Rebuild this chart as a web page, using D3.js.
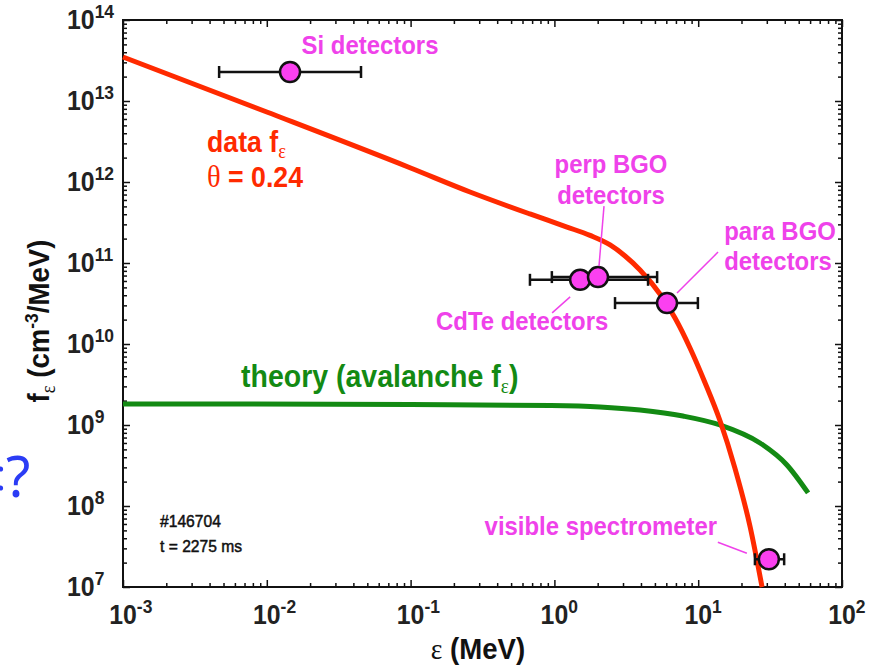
<!DOCTYPE html>
<html>
<head>
<meta charset="utf-8">
<script src="https://cdn.jsdelivr.net/npm/d3@7"></script>
<style>
  body { margin: 0; background: #fff; }
  svg { display: block; }
</style>
</head>
<body>
<svg id="chart" width="882" height="667"></svg>
<script>
// ---- data -------------------------------------------------------------
// measured runaway-electron energy distribution f_eps (cm^-3/MeV) vs energy (MeV)
const dataEnergy  = [0.001, 0.01, 0.1, 0.259, 0.676, 1.224, 1.77, 2.44, 3.10, 3.94, 5.42, 6.90, 8.77, 11.1, 14.2, 18.0, 22.9, 27.8];
const dataDensity = [3.49e13, 7.31e12, 1.49e12, 7.53e11, 4.03e11, 2.78e11, 2.19e11, 1.67e11, 1.22e11, 8.20e10, 4.14e10, 2.09e10, 8.93e9, 3.40e9, 1.12e9, 2.94e8, 5.66e7, 1.0e7];

// avalanche theory distribution
const theoryEnergy  = [0.001, 0.1, 0.946, 2.075, 3.94, 7.83, 14.2, 26.9, 41.4, 58.1];
const theoryDensity = [1.82e9, 1.79e9, 1.74e9, 1.67e9, 1.53e9, 1.29e9, 1.0e9, 6.0e8, 3.21e8, 1.45e8];

// diagnostic measurements: energy, density, energy range low/high
const detectorNames  = ["Si", "CdTe", "perp BGO", "para BGO", "visible"];
const detectorEnergy = [0.0145, 1.51, 2.01, 6.07, 31.0];
const detectorValue  = [2.28e13, 6.2e10, 6.7e10, 3.2e10, 2.2e7];
const detectorLow    = [0.00466, 0.676, 0.96, 2.64, 24.8];
const detectorHigh   = [0.0452, 4.48, 5.18, 9.95, 39.6];

// tick labels (powers of ten)
const xTickExponents = [-3, -2, -1, 0, 1, 2];
const yTickExponents = [7, 8, 9, 10, 11, 12, 13, 14];

// ---- layout -----------------------------------------------------------
const plot = { left: 123, right: 842, top: 20, bottom: 587 };
const SX = 0.92;                       // narrow-face text compression
const SANS = "'Liberation Sans', Arial, Helvetica, sans-serif";
const SERIF = "'Liberation Serif', 'Times New Roman', serif";
const RED = "#ff2a00", GREEN = "#138a13", MAG = "#ef42ea", MAGFILL = "#fb40f0";

const svg = d3.select("#chart");

const x = d3.scaleLog().domain([1e-3, 1e2]).range([plot.left, plot.right]);
const y = d3.scaleLog().domain([1e7, 1e14]).range([plot.bottom, plot.top]);

// ---- axes (inward ticks on all four sides) ----------------------------
function minorTicks(lo, hi) {
  const out = [];
  for (let e = lo; e < hi; e++) for (let m = 2; m <= 9; m++) out.push(m * Math.pow(10, e));
  return out;
}
const xMajor = xTickExponents.map(e => Math.pow(10, e));
const yMajor = yTickExponents.map(e => Math.pow(10, e));
const xMinor = minorTicks(-3, 2);
const yMinor = minorTicks(7, 14);

function tickLayer(axis, transform, values, len) {
  const g = svg.append("g").attr("transform", transform)
    .call(axis.tickValues(values).tickSizeInner(-len).tickSizeOuter(0).tickFormat(() => ""));
  g.select(".domain").remove();
  g.selectAll("text").remove();
  g.selectAll("line").attr("stroke", "#111").attr("stroke-width", 1.5);
}
[[xMajor, 7], [xMinor, 4]].forEach(([v, l]) => {
  tickLayer(d3.axisBottom(x), `translate(0,${plot.bottom})`, v, l);
  tickLayer(d3.axisTop(x), `translate(0,${plot.top})`, v, l);
});
[[yMajor, 7], [yMinor, 4]].forEach(([v, l]) => {
  tickLayer(d3.axisLeft(y), `translate(${plot.left},0)`, v, l);
  tickLayer(d3.axisRight(y), `translate(${plot.right},0)`, v, l);
});

svg.append("rect")
  .attr("x", plot.left).attr("y", plot.top)
  .attr("width", plot.right - plot.left).attr("height", plot.bottom - plot.top)
  .attr("fill", "none").attr("stroke", "#111").attr("stroke-width", 2);

// power-of-ten tick labels
function powerLabel(px, py, exp, anchorMode) {
  const g = svg.append("g").attr("transform", `translate(${px},${py}) scale(${SX},1)`);
  const t = g.append("text").attr("font-family", SANS).attr("font-weight", "bold")
    .attr("font-size", 27).attr("fill", "#222");
  const base = t.append("tspan").text("10");
  t.append("tspan").attr("dy", -11).attr("font-size", 19).text(exp);
  if (anchorMode === "centerBase") {
    t.attr("x", -base.node().getComputedTextLength() / 2);
  }
}
xTickExponents.forEach((e, i) => powerLabel(x(xMajor[i]), plot.bottom + 37, e, "centerBase"));
yTickExponents.forEach((e, i) => powerLabel(67, y(yMajor[i]) + 9, e, "start"));

// axis titles
{
  const g = svg.append("g").attr("transform", `translate(478,659) scale(${SX},1)`);
  const t = g.append("text").attr("text-anchor", "middle").attr("font-size", 30).attr("fill", "#111");
  t.append("tspan").attr("font-family", SERIF).text("ε");
  t.append("tspan").attr("font-family", SANS).attr("font-weight", "bold").text(" (MeV)");
}
{
  const g = svg.append("g").attr("transform", `translate(49,321) rotate(-90) scale(${SX},1)`);
  const t = g.append("text").attr("text-anchor", "middle").attr("font-size", 30)
    .attr("font-family", SANS).attr("font-weight", "bold").attr("fill", "#111");
  t.append("tspan").text("f");
  t.append("tspan").attr("font-family", SERIF).attr("font-weight", "normal").attr("font-size", 20).attr("dy", 6).text("ε");
  t.append("tspan").attr("dy", -6).text(" (cm");
  t.append("tspan").attr("font-size", 19).attr("dy", -11).text("-3");
  t.append("tspan").attr("dy", 11).text("/MeV)");
}

// ---- curves -----------------------------------------------------------
const line = d3.line().x(d => x(d[0])).y(d => y(d[1])).curve(d3.curveMonotoneX);

svg.append("path")
  .datum(theoryEnergy.map((e, i) => [e, theoryDensity[i]]))
  .attr("d", line).attr("fill", "none").attr("stroke", GREEN).attr("stroke-width", 5);

svg.append("path")
  .datum(dataEnergy.map((e, i) => [e, dataDensity[i]]))
  .attr("d", line).attr("fill", "none").attr("stroke", RED).attr("stroke-width", 5);

// ---- measurement points with energy-range bars -------------------------
const pts = detectorNames.map((n, i) => ({
  name: n, e: detectorEnergy[i], v: detectorValue[i], lo: detectorLow[i], hi: detectorHigh[i]
}));

const bars = svg.append("g").attr("stroke", "#111").attr("stroke-width", 2.5).attr("fill", "none");
pts.forEach(p => {
  bars.append("line").attr("x1", x(p.lo)).attr("x2", x(p.hi)).attr("y1", y(p.v)).attr("y2", y(p.v));
  bars.append("line").attr("x1", x(p.lo)).attr("x2", x(p.lo)).attr("y1", y(p.v) - 6).attr("y2", y(p.v) + 6);
  bars.append("line").attr("x1", x(p.hi)).attr("x2", x(p.hi)).attr("y1", y(p.v) - 6).attr("y2", y(p.v) + 6);
});
svg.append("g").selectAll("circle").data(pts).join("circle")
  .attr("cx", d => x(d.e)).attr("cy", d => y(d.v)).attr("r", 10)
  .attr("fill", MAGFILL).attr("stroke", "#111").attr("stroke-width", 2.5);

// ---- annotations ------------------------------------------------------
function label(px, py, parts, opts = {}) {
  const g = svg.append("g").attr("transform", `translate(${px},${py}) scale(${SX},1)`);
  const t = g.append("text")
    .attr("text-anchor", opts.anchor || "start")
    .attr("font-family", SANS).attr("font-weight", opts.weight || "bold")
    .attr("font-size", opts.size || 26).attr("fill", opts.color || MAG);
  if (opts.stroke) t.attr("stroke", opts.color).attr("stroke-width", opts.stroke);
  parts.forEach(p => {
    if (typeof p === "string") { t.append("tspan").text(p); return; }
    const s = t.append("tspan").text(p.text);
    if (p.serif) s.attr("font-family", SERIF).attr("font-weight", "normal");
    if (p.size) s.attr("font-size", p.size);
    if (p.dy) s.attr("dy", p.dy);
  });
  return t;
}
function leader(p, a, b) {
  svg.append("line")
    .attr("x1", x(p.e) + a[0]).attr("y1", y(p.v) + a[1])
    .attr("x2", x(p.e) + b[0]).attr("y2", y(p.v) + b[1])
    .attr("stroke", MAG).attr("stroke-width", 1.5);
}
const byName = Object.fromEntries(pts.map(p => [p.name, p]));

// Si
{ const p = byName["Si"]; label(x(p.e) + 80, y(p.v) - 18, ["Si detectors"], { anchor: "middle" }); }
// perp BGO
{ const p = byName["perp BGO"];
  leader(p, [1, -11], [6, -71]);
  label(x(p.e) + 13, y(p.v) - 104, ["perp BGO"], { anchor: "middle" });
  label(x(p.e) + 13, y(p.v) - 73, ["detectors"], { anchor: "middle" }); }
// para BGO
{ const p = byName["para BGO"];
  leader(p, [10, -10], [51, -51]);
  label(x(p.e) + 113, y(p.v) - 63, ["para BGO"], { anchor: "middle" });
  label(x(p.e) + 111, y(p.v) - 33, ["detectors"], { anchor: "middle" }); }
// CdTe
{ const p = byName["CdTe"];
  leader(p, [-10, 17], [-28, 33]);
  label(x(p.e) - 58, y(p.v) + 50, ["CdTe detectors"], { anchor: "middle" }); }
// visible spectrometer
{ const p = byName["visible"];
  leader(p, [-22, -6], [-51, -17]);
  label(x(p.e) - 168, y(p.v) - 24, ["visible spectrometer"], { anchor: "middle" }); }

// curve labels
label(207, 152, ["data f", { text: "ε", serif: true, size: 20, dy: 6 }], { color: RED, size: 29 });
label(207, 187, [{ text: "θ", serif: true, size: 31 }, " = 0.24"], { color: RED, size: 29 });
label(241, 387, ["theory (avalanche f", { text: "ε", serif: true, size: 21, dy: 6 }, { text: ")", dy: -6 }],
  { color: GREEN, size: 31 });

// shot info
label(160, 527, ["#146704"], { color: "#111", size: 17, weight: "normal", stroke: 0.5 });
label(160, 552, ["t = 2275 ms"], { color: "#111", size: 17, weight: "normal", stroke: 0.5 });

// stray blue mark at the left margin
svg.append("text").attr("x", 6).attr("y", 497).attr("font-family", "'Noto Sans', sans-serif")
  .attr("font-size", 56).attr("fill", "#2b3cf5").text("?");
svg.append("g").attr("fill", "#2b3cf5").selectAll("circle").data([469, 488]).join("circle")
  .attr("cx", 0.5).attr("cy", d => d).attr("r", 2.6);
</script>
</body>
</html>
